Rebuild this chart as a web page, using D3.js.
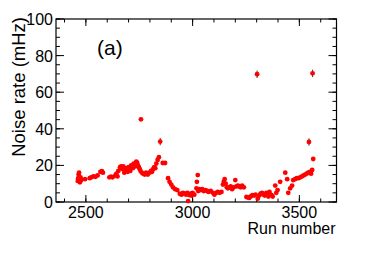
<!DOCTYPE html>
<html>
<head>
<meta charset="utf-8">
<script src="https://cdn.jsdelivr.net/npm/d3@7"></script>
<style>
body { margin:0; background:#fff; }
text { font-family: "Liberation Sans", Arial, sans-serif; }
</style>
</head>
<body>
<div id="chart"></div>
<script>
// run numbers and noise rates
const runs = [2462,2464,2466,2468,2470,2472,2475,2478,2496,2518,2525,2535,2545,2555,2568,2575,2580,
  2610,2618,2625,2638,2643,2648,2652,2660,2665,2670,2675,
  2680,2684,2688,2692,2696,2700,2704,2708,2712,2716,2720,2724,2728,2732,2736,2740,2744,2748,
  2758,2752,2756,2762,2768,2775,2782,2790,2798,2805,2810,2815,2820,2825,2830,2836,2842,2848,2860,
  2871,2885,2892,2900,2908,2918,2928,2940,2948,2955,2962,2970,2975,2979,2985,2990,2995,3000,3008,
  3018,3020,3024,3026,3032,3038,3045,3052,3060,3068,3075,3085,3095,3102,3110,3118,3126,3135,
  3142,3146,3150,3155,3160,3165,3170,3178,3185,3192,3200,3205,3212,3218,3225,3232,3240,
  3252,3258,3265,3272,3280,3288,3302,
  3295,3305,3312,3318,3325,3332,3338,3345,3350,3355,3360,3365,3370,3375,3387,3392,3398,3410,
  3434,3443,3448,3457,3466,3471,3480,3488,3496,3504,3512,3520,3527,3534,3541,3545,3550,3555,3560,3562,3565]
const rates = [11.5,13,15,16,12,10.8,13.5,12,12.5,13,13.5,14,13.8,14.5,16.5,16.8,16,
  13.5,13.8,13.5,14.5,15.5,14,17,19,19.5,18,19.5,
  16,17,18.5,17.5,16.5,19,18,17,20,19,18.5,21,20,19.5,22,21.5,20,19,
  45.2,18,17,16,15.5,15,16,15,16,17,16.5,18,19,18.5,21,23,24.5,33,21.3,
  21.3,13,11,9.5,8,7,6.5,4.5,4,5,4.5,4,5,0.5,3.8,4.5,3.5,5,4,
  7.5,11,14.7,6,7,6.5,7,6,6.5,6,5.5,6,5,4,5,5.5,5,5.5,
  9.5,11,12.5,10,8,7.5,8,8.5,7,8,12,8.5,9,8.5,8,9,8,
  2.8,2.5,2.2,3,3.8,3.5,69.8,
  4,1.8,3.5,4.5,5,4,3.5,5,4.5,3,5.5,4,3.8,3,9,5,6.5,11,
  16,12.5,5,7.5,9,12,12.5,13,13,13.5,14,14.5,15,15.5,16,32.8,16.5,15.5,17.5,70.3,23.5]
const errs = [0.5,0.5,0.5,0.5,0.5,0.5,0.5,0.5,0.5,0.5,0.5,0.5,0.5,0.5,0.5,0.5,0.5,
  0.5,0.5,0.5,0.5,0.5,0.5,0.8,0.5,0.5,0.5,0.5,
  0.5,0.5,0.5,0.5,0.5,0.5,0.5,0.5,0.5,0.5,0.5,0.5,0.5,0.5,0.5,0.5,0.5,0.5,
  0.8,0.5,0.5,0.5,0.5,0.5,0.5,0.5,0.5,0.5,0.5,0.5,0.5,0.5,0.8,0.8,0.8,2,0.5,
  0.5,0.5,0.5,0.5,0.5,0.5,0.5,0.5,0.5,0.5,0.5,0.5,0.5,0.5,0.5,0.5,0.5,0.5,0.5,
  0.5,0.5,0.5,0.5,0.5,0.5,0.5,0.5,0.5,0.5,0.5,0.5,0.5,0.5,0.5,0.5,0.5,0.5,
  0.5,0.5,0.5,0.5,0.5,0.5,0.5,0.5,0.5,0.5,0.5,0.5,0.5,0.5,0.5,0.5,0.5,
  0.5,0.5,0.5,0.5,0.5,0.5,2,
  0.5,0.5,0.5,0.5,0.5,0.5,0.5,0.5,0.5,0.5,0.5,0.5,0.5,0.5,0.5,0.5,0.5,0.5,
  0.5,0.5,0.5,0.5,0.5,0.5,0.5,0.5,0.5,0.5,0.5,0.5,0.5,0.5,0.5,2,0.5,0.5,0.5,2,0.5]

const xTicks = [2500,3000,3500]
const yTicks = [0,20,40,60,80,100]

const margin = {top:19, right:37.5, bottom:51, left:56}
const width = 374 - margin.left - margin.right
const height = 253 - margin.top - margin.bottom

const svg = d3.select("#chart").append("svg")
    .attr("width", 374)
    .attr("height", 253)
    .append("g")
    .attr("transform", "translate(" + margin.left + "," + margin.top + ")");

const data = runs.map((r,i) => ({run:r, rate:rates[i], err:errs[i]}))

const x = d3.scaleLinear().domain([2360,3674]).range([0,width])
const y = d3.scaleLinear().domain([0,100]).range([height,0])

const minorX = d3.range(2400,3674,100)
const minorY = d3.range(0,101,5)

// ticks on all four sides, pointing inwards (ROOT style)
function ticks(g, vals, len, horiz, pos) {
    g.selectAll(null).data(vals).enter().append("line")
        .attr("x1", d => horiz ? x(d) : pos)
        .attr("x2", d => horiz ? x(d) : pos + len)
        .attr("y1", d => horiz ? pos : y(d))
        .attr("y2", d => horiz ? pos - len : y(d))
        .attr("stroke","#000").attr("stroke-width",1)
}
const tg = svg.append("g")
ticks(tg, minorX, 3.5, true, height)
ticks(tg, xTicks, 7, true, height)
ticks(tg, minorX, -3.5, true, 0)
ticks(tg, xTicks, -7, true, 0)
ticks(tg, minorY, 4, false, 0)
ticks(tg, yTicks, 8, false, 0)
ticks(tg, minorY, -4, false, width)
ticks(tg, yTicks, -8, false, width)

svg.append("rect")
    .attr("width", width).attr("height", height)
    .attr("fill","none").attr("stroke","#000").attr("stroke-width",1.2)

svg.selectAll(".xl").data(xTicks).enter().append("text")
    .attr("x", d => x(d)).attr("y", height + 16)
    .attr("text-anchor","middle").attr("font-size","16px")
    .text(d => d)

svg.selectAll(".yl").data(yTicks).enter().append("text")
    .attr("x", -3).attr("y", d => y(d) + 6)
    .attr("text-anchor","end").attr("font-size","16px")
    .text(d => d)

// error bars then markers
svg.selectAll(".err").data(data).enter().append("line")
    .attr("x1", d => x(d.run)).attr("x2", d => x(d.run))
    .attr("y1", d => y(d.rate - d.err)).attr("y2", d => y(d.rate + d.err))
    .attr("stroke","#333").attr("stroke-width",1)

svg.selectAll(".dot").data(data).enter().append("circle")
    .attr("cx", d => x(d.run)).attr("cy", d => y(d.rate))
    .attr("r", 2.4)
    .style("fill","#ff0000")

svg.append("text")
    .attr("x", width - 1).attr("y", height + 32)
    .attr("text-anchor","end").attr("font-size","16px")
    .text("Run number")

svg.append("text")
    .attr("transform","translate(" + (25 - margin.left) + ",-2) rotate(-90)")
    .attr("text-anchor","end").attr("font-size","18.5px")
    .text("Noise rate (mHz)")

svg.append("text")
    .attr("x", 41).attr("y", 36)
    .attr("font-size","21px")
    .text("(a)")
</script>
</body>
</html>
